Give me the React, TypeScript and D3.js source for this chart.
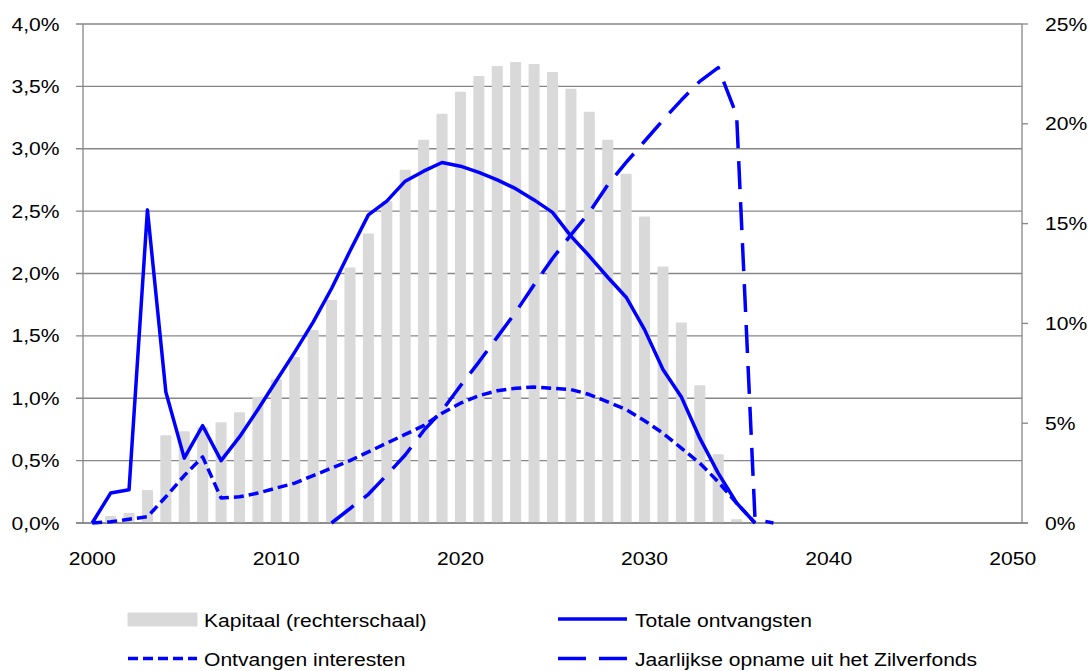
import React from "react";
import * as d3 from "d3";

const years: number[] = d3.range(2000, 2051);

// Kapitaal (rechterschaal), % — 2000..2035
const kapitaal: (number | null)[] = [
  0, 0.35, 0.5, 1.65, 4.4, 4.6, 4.8, 5.05, 5.55, 6.33,
  7.2, 8.32, 9.67, 11.17, 12.8, 14.5, 16.13, 17.7, 19.2, 20.5,
  21.6, 22.4, 22.9, 23.1, 23.0, 22.6, 21.76, 20.6, 19.2, 17.5,
  15.35, 12.85, 10.05, 6.9, 3.44, 0.19,
];

// Totale ontvangsten, % — 2000..2036
const totale: (number | null)[] = [
  0, 0.24, 0.266, 2.51, 1.05, 0.52, 0.78, 0.5, 0.69, 0.91,
  1.14, 1.37, 1.61, 1.88, 2.18, 2.47, 2.58, 2.74, 2.82, 2.89,
  2.86, 2.81, 2.75, 2.68, 2.59, 2.49, 2.3, 2.14, 1.97, 1.81,
  1.55, 1.23, 1.01, 0.68, 0.4, 0.16, 0,
];

// Ontvangen interesten, % — 2000..2036
const interesten: (number | null)[] = [
  0, 0.01, 0.03, 0.05, 0.21, 0.38, 0.53, 0.2, 0.21, 0.24,
  0.28, 0.32, 0.38, 0.44, 0.5, 0.57, 0.64, 0.71, 0.78, 0.88,
  0.96, 1.02, 1.06, 1.08, 1.09, 1.08, 1.07, 1.03, 0.97, 0.91,
  0.82, 0.72, 0.6, 0.48, 0.33, 0.16, 0,
];

// Jaarlijkse opname uit het Zilverfonds, % — 2000..2037
const opname: (number | null)[] = [
  null, null, null, null, null, null, null, null, null, null,
  null, null, null, 0, 0.116, 0.23, 0.385, 0.545, 0.74, 0.9,
  1.1, 1.29, 1.49, 1.69, 1.91, 2.12, 2.31, 2.49, 2.71, 2.89,
  3.06, 3.23, 3.39, 3.54, 3.65, 3.27, 0.03, 0,
];

const leftTicks: number[] = [0, 0.5, 1, 1.5, 2, 2.5, 3, 3.5, 4];
const rightTicks: number[] = [0, 5, 10, 15, 20, 25];
const xLabelYears: number[] = [2000, 2010, 2020, 2030, 2040, 2050];

const W = 1089;
const H = 671;
const M = { left: 83, right: 1022, top: 24, bottom: 523 };
const FONT = "'Liberation Sans', Arial, sans-serif";
const FS = 18.5;
const SX = 1.14;
const GRID = "#878787";
const BLUE = "#0000ff";

function SText(props: { x: number; y: number; anchor?: string; children: React.ReactNode }) {
  return (
    <text
      transform={`translate(${props.x},${props.y}) scale(${SX},1)`}
      textAnchor={props.anchor || "start"}
      fontFamily={FONT}
      fontSize={FS}
      fill="#000"
    >
      {props.children}
    </text>
  );
}

export default function App() {
  const x = d3
    .scaleBand<number>()
    .domain(years)
    .range([M.left, M.right])
    .paddingInner(0.4)
    .paddingOuter(0.2);
  const cx = (yr: number) => (x(yr) as number) + x.bandwidth() / 2;
  const yL = d3.scaleLinear().domain([0, 4]).range([M.bottom, M.top]);
  const yR = d3.scaleLinear().domain([0, 25]).range([M.bottom, M.top]);

  const mk = (arr: (number | null)[]) =>
    d3
      .line<number | null>()
      .defined((d) => d !== null)
      .x((_, i) => cx(years[i]))
      .y((d) => yL(d as number))(arr) || "";

  const fmtL = (v: number) => v.toFixed(1).replace(".", ",") + "%";

  return (
    <svg
      width={W}
      height={H}
      style={{ position: "absolute", left: 0, top: 0, background: "#fff" }}
    >
      {/* gridlines */}
      {leftTicks.map((t) => (
        <line
          key={"g" + t}
          x1={M.left - 7}
          x2={M.right}
          y1={yL(t)}
          y2={yL(t)}
          stroke={GRID}
          strokeWidth={1.3}
        />
      ))}
      {/* bars */}
      {kapitaal.map((v, i) =>
        v === null || v <= 0 ? null : (
          <rect
            key={"b" + i}
            x={x(years[i])}
            y={yR(v)}
            width={x.bandwidth()}
            height={yR(0) - yR(v)}
            fill="#d9d9d9"
            rx={1}
          />
        )
      )}
      {/* axes */}
      <line x1={M.left} x2={M.left} y1={M.top} y2={M.bottom} stroke={GRID} strokeWidth={1.3} />
      <line x1={M.right} x2={M.right} y1={M.top} y2={M.bottom} stroke={GRID} strokeWidth={1.3} />
      <line x1={M.left - 7} x2={M.right + 6} y1={M.bottom} y2={M.bottom} stroke={GRID} strokeWidth={1.3} />
      {rightTicks.map((t) => (
        <line key={"rt" + t} x1={M.right} x2={M.right + 6} y1={yR(t)} y2={yR(t)} stroke={GRID} strokeWidth={1.3} />
      ))}
      {/* lines */}
      <path d={mk(interesten)} fill="none" stroke={BLUE} strokeWidth={3.5} strokeDasharray="10,5" strokeLinejoin="round" />
      <path d={mk(opname)} fill="none" stroke={BLUE} strokeWidth={3.5} strokeDasharray="28,13" strokeLinejoin="round" />
      <path d={mk(totale)} fill="none" stroke={BLUE} strokeWidth={3.5} strokeLinejoin="round" />
      {/* left labels */}
      {leftTicks.map((t) => (
        <SText key={"ll" + t} x={59.5} y={yL(t) + 6.6} anchor="end">
          {fmtL(t)}
        </SText>
      ))}
      {/* right labels */}
      {rightTicks.map((t) => (
        <SText key={"rl" + t} x={1045} y={yR(t) + 6.6} anchor="start">
          {t + "%"}
        </SText>
      ))}
      {/* x labels */}
      {xLabelYears.map((yr) => (
        <SText key={"xl" + yr} x={cx(yr)} y={565} anchor="middle">
          {yr}
        </SText>
      ))}
      {/* legend */}
      <rect x={127.5} y={612.5} width={70} height={14} fill="#d9d9d9" rx={1} />
      <SText x={204} y={627}>Kapitaal (rechterschaal)</SText>
      <line x1={558} x2={627} y1={619} y2={619} stroke={BLUE} strokeWidth={3.5} />
      <SText x={635} y={627}>Totale ontvangsten</SText>
      <line x1={128} x2={197} y1={658.5} y2={658.5} stroke={BLUE} strokeWidth={3.5} strokeDasharray="10,5" />
      <SText x={204} y={666}>Ontvangen interesten</SText>
      <line x1={558} x2={627} y1={658.5} y2={658.5} stroke={BLUE} strokeWidth={3.5} strokeDasharray="28,13" />
      <SText x={635} y={666}>Jaarlijkse opname uit het Zilverfonds</SText>
    </svg>
  );
}
